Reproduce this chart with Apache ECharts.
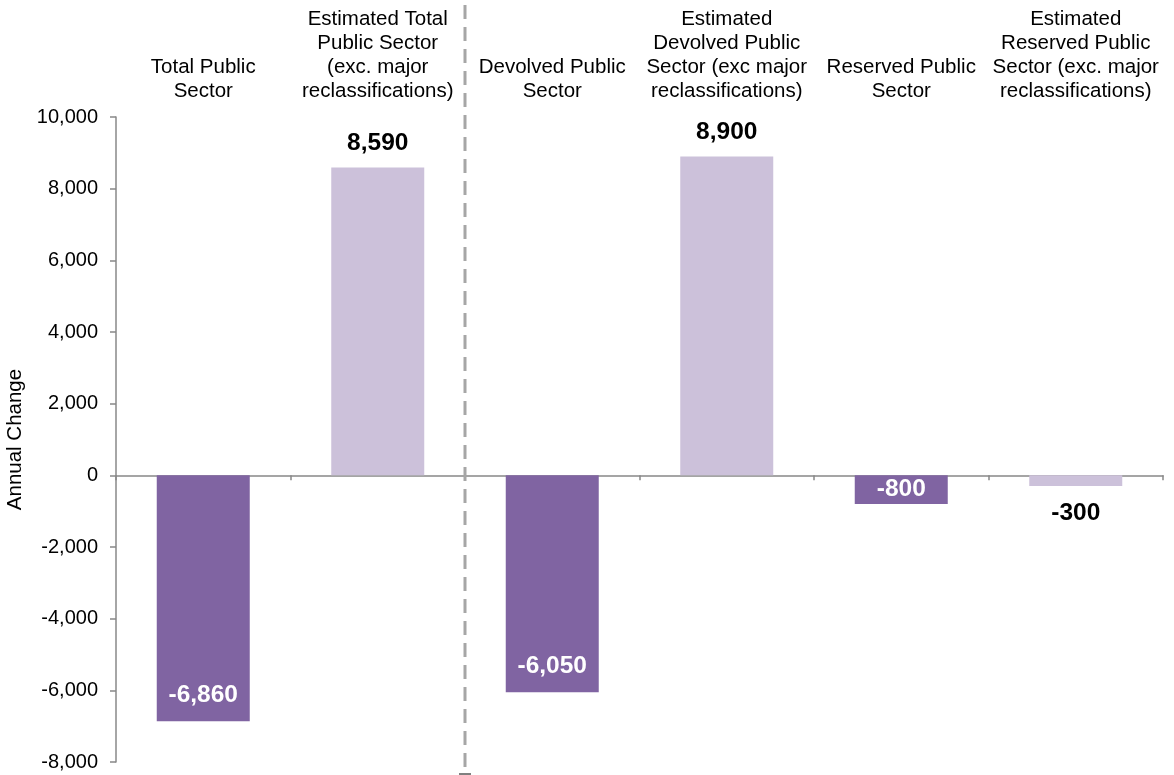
<!DOCTYPE html>
<html>
<head>
<meta charset="utf-8">
<script src="https://cdn.jsdelivr.net/npm/echarts@6/dist/echarts.min.js"></script>
<style>
  html, body { margin: 0; padding: 0; background: #fff; }
  #main { width: 1174px; height: 775px; }
</style>
</head>
<body>
<div id="main"></div>
<script>
  // categories and values
  const categories = [
    'Total Public\nSector',
    'Estimated Total\nPublic Sector\n(exc. major\nreclassifications)',
    'Devolved Public\nSector',
    'Estimated\nDevolved Public\nSector (exc major\nreclassifications)',
    'Reserved Public\nSector',
    'Estimated\nReserved Public\nSector (exc. major\nreclassifications)'
  ]
  const values = [-6860, 8590, -6050, 8900, -800, -300]
  const isEstimate = [false, true, false, true, false, true]
  const yTicks = { min: -8000, max: 10000, interval: 2000 }

  const DARK = '#8064A2'
  const LIGHT = '#CCC1DA'
  const FONT = '"Liberation Sans", Arial, sans-serif'

  // build bar items (colour + label placement from sign/type)
  const barData = values.map((v, i) => {
    const est = isEstimate[i]
    let label
    if (est) {
      label = { position: v >= 0 ? 'top' : 'bottom', color: '#000', distance: v >= 0 ? 12 : 15 }
    } else if (Math.abs(v) < 2000) {
      label = { position: 'inside', color: '#fff' }
    } else {
      label = { position: 'insideBottom', color: '#fff', distance: 13 }
    }
    return {
      value: v,
      itemStyle: { color: est ? LIGHT : DARK },
      label: label
    }
  })

  const chart = echarts.init(document.getElementById('main'))
  const option = {
    backgroundColor: '#fff',
    animation: false,
    textStyle: { fontFamily: FONT },
    grid: { left: 116, right: 11, top: 117, bottom: 13, outerBoundsMode: 'none', containLabel: false },
    xAxis: [
      {
        type: 'category',
        data: categories,
        position: 'bottom',
        axisLine: { onZero: true, lineStyle: { color: '#888', width: 1.5 } },
        axisTick: { show: true, length: 5, lineStyle: { color: '#888', width: 1.5 } },
        axisLabel: { show: false },
        splitLine: { show: false }
      },
      {
        type: 'category',
        data: categories,
        position: 'top',
        axisLine: { show: false, onZero: false },
        axisTick: { show: false },
        axisLabel: {
          interval: 0,
          margin: 14,
          fontSize: 20.5,
          lineHeight: 24,
          color: '#000',
          fontFamily: FONT,
          align: 'center'
        }
      }
    ],
    yAxis: {
      type: 'value',
      min: yTicks.min,
      max: yTicks.max,
      interval: yTicks.interval,
      name: 'Annual Change',
      nameLocation: 'middle',
      nameGap: 88,
      nameTextStyle: { fontSize: 20.5, color: '#000', fontFamily: FONT },
      axisLine: { show: true, lineStyle: { color: '#888', width: 1.5 } },
      axisTick: { show: true, length: 6, lineStyle: { color: '#888', width: 1.5 } },
      axisLabel: {
        fontSize: 20,
        color: '#000',
        margin: 18,
        fontFamily: FONT,
        formatter: v => v.toLocaleString('en-US')
      },
      splitLine: { show: false }
    },
    series: [
      {
        type: 'bar',
        data: barData,
        barWidth: 93,
        label: {
          show: true,
          fontSize: 24.5,
          fontWeight: 'bold',
          fontFamily: FONT,
          formatter: p => p.value.toLocaleString('en-US')
        }
      }
    ]
  }
  chart.setOption(option)

  // dashed separator between the total and the devolved/reserved groups
  const c1 = chart.convertToPixel({ xAxisIndex: 0 }, categories[1])
  const c2 = chart.convertToPixel({ xAxisIndex: 0 }, categories[2])
  const sepX = Math.round((c1 + c2) / 2)
  chart.setOption({
    graphic: [
      {
        type: 'line',
        shape: { x1: sepX, y1: 5, x2: sepX, y2: 773 },
        style: { stroke: '#A6A6A6', lineWidth: 3, lineDash: [14, 8] },
        z: 10
      },
      {
        type: 'line',
        shape: { x1: sepX - 6, y1: 774, x2: sepX + 6, y2: 774 },
        style: { stroke: '#000', lineWidth: 1 },
        z: 10
      }
    ]
  })
  window.addEventListener('resize', chart.resize)
</script>
</body>
</html>
